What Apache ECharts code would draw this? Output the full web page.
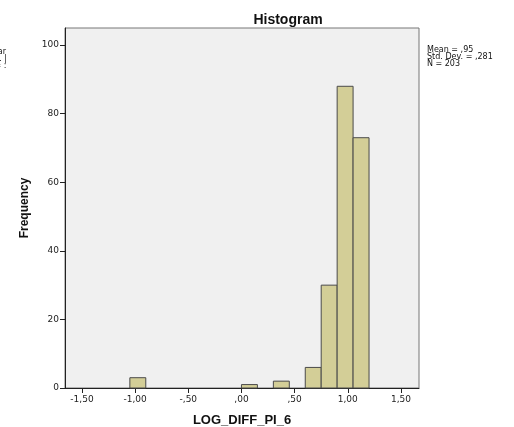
<!DOCTYPE html>
<html>
<head>
<meta charset="utf-8">
<script src="https://cdn.jsdelivr.net/npm/echarts@6/dist/echarts.min.js"></script>
<style>
  html, body { margin: 0; padding: 0; background: #fff; }
  #chart { width: 514px; height: 427px; }
</style>
</head>
<body>
<div id="chart"></div>
<script>
// bins of LOG_DIFF_PI_6 (width ,15)
const binStarts = [-1.05, 0.00, 0.30, 0.60, 0.75, 0.90, 1.05];
const binWidth = 0.15;
const counts = [3, 1, 2, 6, 30, 88, 73];
const xTicks = [-1.5, -1.0, -0.5, 0.0, 0.5, 1.0, 1.5];
const yTicks = [0, 20, 40, 60, 80, 100];
const statLines = ['Mean = ,95', 'Std. Dev. = ,281', 'N = 203'];

const font = 'Liberation Sans, Arial, sans-serif';
const smallFont = 'DejaVu Sans, Verdana, sans-serif';

function fmt(v) {
  let s = Math.abs(v).toFixed(2).replace('.', ',');
  if (s.charAt(0) === '0') s = s.slice(1);
  return (v < 0 ? '-' : '') + s;
}

const binData = binStarts.map((s, i) => [s, s + binWidth, counts[i]]);

const chart = echarts.init(document.getElementById('chart'), null, { renderer: 'canvas' });

chart.setOption({
  animation: false,
  backgroundColor: '#fff',
  title: {
    text: 'Histogram',
    left: 283, top: 8,
    textAlign: 'center',
    textStyle: { fontFamily: font, fontSize: 14, fontWeight: 'bold', color: '#111' }
  },
  grid: {
    left: 65, top: 28, right: 95, bottom: 39,
    containLabel: false, outerBoundsMode: 'none',
    show: true, backgroundColor: '#f0f0f0', borderColor: '#777', borderWidth: 1
  },
  xAxis: {
    type: 'value',
    min: -1.66, max: 1.67,
    name: 'LOG_DIFF_PI_6',
    nameLocation: 'middle',
    nameGap: 26,
    nameTextStyle: { fontFamily: font, fontSize: 13, fontWeight: 'bold', color: '#111' },
    axisLine: { show: true, onZero: false, lineStyle: { color: '#222', width: 1 } },
    axisTick: { show: true, length: 5, customValues: xTicks, lineStyle: { color: '#222' } },
    axisLabel: {
      customValues: xTicks, formatter: fmt, margin: 7,
      fontFamily: smallFont, fontSize: 9, color: '#222'
    },
    splitLine: { show: false }
  },
  yAxis: {
    type: 'value',
    min: 0, max: 105,
    name: 'Frequency',
    nameLocation: 'middle',
    nameRotate: 90,
    nameGap: 32,
    nameTextStyle: { fontFamily: font, fontSize: 12, fontWeight: 'bold', color: '#111' },
    axisLine: { show: true, onZero: false, lineStyle: { color: '#222', width: 1 } },
    axisTick: { show: true, length: 5, customValues: yTicks, lineStyle: { color: '#222' } },
    axisLabel: { customValues: yTicks, margin: 6, fontFamily: smallFont, fontSize: 9, color: '#222' },
    splitLine: { show: false }
  },
  series: [{
    type: 'custom',
    data: binData,
    encode: { x: [0, 1], y: 2 },
    renderItem: function (params, api) {
      const p0 = api.coord([api.value(0), 0]);
      const p1 = api.coord([api.value(1), api.value(2)]);
      return {
        type: 'rect',
        shape: { x: p0[0], y: p1[1], width: p1[0] - p0[0], height: p0[1] - p1[1] },
        style: { fill: '#d3ce97', stroke: '#4a4a4a', lineWidth: 1 }
      };
    }
  }],
  graphic: [
    {
      type: 'text', left: 427, top: 46,
      style: {
        text: statLines.join('\n'),
        fontFamily: smallFont, fontSize: 8, lineHeight: 7, fill: '#111'
      }
    },
    {
      type: 'text', right: 507, top: 48,
      style: {
        text: 'Mear\nStd. |\nN = :',
        align: 'right',
        fontFamily: smallFont, fontSize: 8, lineHeight: 7, fill: '#111'
      }
    }
  ]
});
</script>
</body>
</html>
